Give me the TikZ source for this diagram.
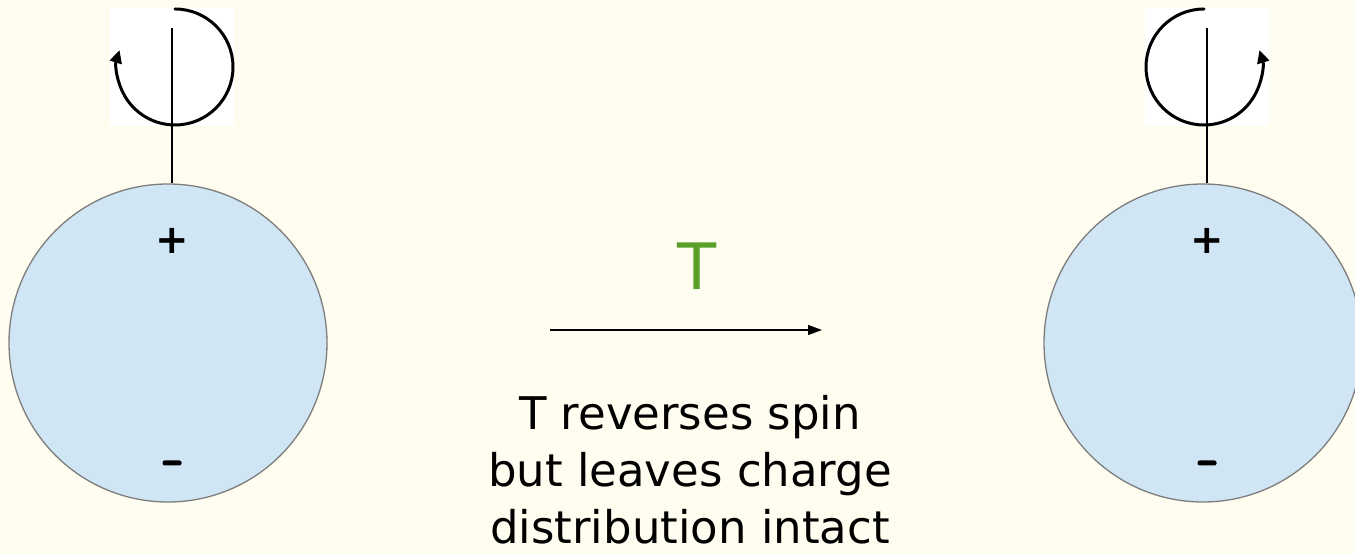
\documentclass[tikz,border=0pt]{standalone}
\usepackage{fontspec}
\setmainfont{DejaVu Sans}
\usetikzlibrary{arrows.meta}
\definecolor{paper}{RGB}{255,252,240}
\definecolor{ballblue}{RGB}{208,230,245}
\definecolor{ballrim}{RGB}{125,125,125}
\definecolor{tgreen}{RGB}{90,160,40}
\tikzset{
  ball/.style={circle, draw=ballrim, line width=1.3pt, fill=ballblue, minimum size=318pt, inner sep=0pt},
  spinbox/.style={fill=white, draw=none, minimum width=124pt, minimum height=118pt, inner sep=0pt},
  spinarc/.style={line width=3pt, line cap=round, -{Triangle[length=13pt,width=12pt]}},
  axisline/.style={line width=1.3pt},
  charge/.style={font=\bfseries\fontsize{40}{40}\selectfont, inner sep=0pt},
  minusbar/.style={fill=black, rounded corners=2pt, minimum width=19pt, minimum height=5pt, inner sep=0pt},
  caption/.style={align=center, font=\fontsize{45}{57}\selectfont, inner sep=0pt},
}
\begin{document}
\begin{tikzpicture}[x=1pt,y=1pt]
  \fill[paper] (0,0) rectangle (1355,554);
  \useasboundingbox (0,0) rectangle (1355,554);

  % left particle
  \node[spinbox] (lbox) at (172,487) {};
  \draw[spinarc] (175,545) arc[start angle=90, end angle=-197, radius=58];
  \node[ball] (lb) at (168,211) {};
  \coordinate (ltop) at (172,526);
  \draw[axisline] (ltop) -- (ltop |- lb.north);
  \node[charge] (lplus) at (172,313) {+};
  \node[minusbar] (lminus) at (172,91) {};

  % right particle
  \node[spinbox] (rbox) at (1207,487) {};
  \draw[spinarc] (1204,545) arc[start angle=90, end angle=377, radius=58];
  \node[ball] (rb) at (1203,211) {};
  \coordinate (rtop) at (1207,526);
  \draw[axisline] (rtop) -- (rtop |- rb.north);
  \node[charge] (rplus) at (1207,313) {+};
  \node[minusbar] (rminus) at (1207,91) {};

  % transformation arrow
  \node[text=tgreen, font=\fontsize{64}{64}\selectfont, inner sep=0pt] (tlabel) at (697,288) {T};
  \coordinate (astart) at (550,224);
  \coordinate (aend) at (822,224);
  \draw[line width=1.3pt, -{Triangle[length=14pt,width=10pt]}] (astart) -- (aend);

  \node[caption, anchor=north] (note) at (690,159) {T reverses spin\\but leaves charge\\distribution intact};
\end{tikzpicture}
\end{document}
